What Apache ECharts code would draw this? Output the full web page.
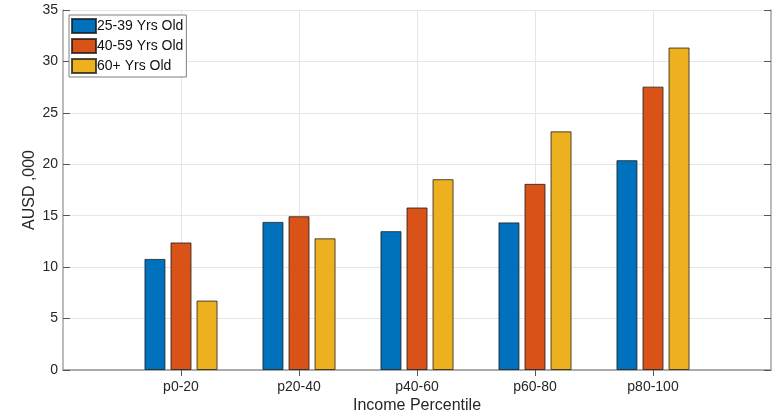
<!DOCTYPE html>
<html><head><meta charset="utf-8">
<script src="https://cdn.jsdelivr.net/npm/echarts@6/dist/echarts.min.js"></script>
<style>html,body{margin:0;padding:0;background:#fff}#c{width:783px;height:417px}</style>
</head><body><div id="c"></div>
<script>
const categories = ['p0-20', 'p20-40', 'p40-60', 'p60-80', 'p80-100'];
const seriesNames = ['25-39 Yrs Old', '40-59 Yrs Old', '60+ Yrs Old'];
const age25_39 = [10.8, 14.4, 13.5, 14.35, 20.4];
const age40_59 = [12.4, 14.95, 15.8, 18.1, 27.55];
const age60plus = [6.75, 12.8, 18.55, 23.2, 31.35];
const yTicks = [0, 5, 10, 15, 20, 25, 30, 35];
const colors = ['#0072BD', '#D95319', '#EDB120'];

const axisCats = [''].concat(categories, ['']);
const pad = a => [null].concat(a, [null]);
const font = 'Liberation Sans, Arial, Helvetica, sans-serif';
const axisGray = '#a6a6a6';
const inner = i => i > 0 && i < axisCats.length - 1;

const chart = echarts.init(document.getElementById('c'), null, {renderer: 'canvas'});
const mk = (name, data, i) => ({
  name: name, type: 'bar', data: pad(data), xAxisIndex: 0, yAxisIndex: 0,
  barWidth: 21, barGap: '24%',
  itemStyle: {color: colors[i], borderColor: 'rgba(20,20,20,0.75)', borderWidth: 1},
  emphasis: {disabled: true}, animation: false
});
chart.setOption({
  animation: false,
  textStyle: {fontFamily: font},
  grid: {left: 63, right: 12, top: 10, bottom: 47, containLabel: false, outerBoundsMode: 'none'},
  legend: {
    orient: 'vertical', left: 69, top: 15, icon: 'rect',
    itemWidth: 24, itemHeight: 14, itemGap: 4,
    padding: [3, 3, 3, 2],
    borderColor: '#7f7f7f', borderWidth: 1, backgroundColor: '#fff',
    textStyle: {fontSize: 14, lineHeight: 14, color: '#111', fontFamily: font, padding: [0, 0, 0, -4]},
    data: seriesNames
  },
  xAxis: [{
    type: 'category', data: axisCats, boundaryGap: false,
    name: 'Income Percentile', nameLocation: 'middle', nameGap: 28, nameMoveOverlap: false,
    nameTextStyle: {fontSize: 16, color: '#262626', fontFamily: font},
    axisLine: {show: true, lineStyle: {color: axisGray, width: 1.5}},
    axisTick: {show: true, inside: true, length: 6, interval: inner, lineStyle: {color: '#555'}},
    axisLabel: {fontSize: 14, color: '#262626', margin: 10, interval: 0},
    splitLine: {show: true, interval: inner, lineStyle: {color: '#e6e6e6'}}
  }, {
    type: 'category', data: axisCats, boundaryGap: false, position: 'top',
    axisLine: {show: true, lineStyle: {color: axisGray, width: 1.5}},
    axisTick: {show: true, inside: true, length: 6, interval: inner, lineStyle: {color: '#555'}},
    axisLabel: {show: false}, splitLine: {show: false}
  }],
  yAxis: [{
    type: 'value', min: 0, max: 35, interval: 5,
    name: 'AUSD ,000', nameLocation: 'middle', nameGap: 25, nameRotate: 90, nameMoveOverlap: false,
    nameTextStyle: {fontSize: 16, color: '#262626', fontFamily: font},
    axisLine: {show: true, lineStyle: {color: axisGray, width: 1.5}},
    axisTick: {show: true, inside: true, length: 7, lineStyle: {color: '#555'}},
    axisLabel: {fontSize: 14, color: '#262626', margin: 5,
      formatter: v => yTicks.indexOf(v) >= 0 ? String(v) : ''},
    splitLine: {show: true, lineStyle: {color: '#e6e6e6'}}
  }, {
    type: 'value', min: 0, max: 35, interval: 5, position: 'right',
    axisLine: {show: true, lineStyle: {color: axisGray, width: 1.5}},
    axisTick: {show: true, inside: true, length: 7, lineStyle: {color: '#555'}},
    axisLabel: {show: false}, splitLine: {show: false}
  }],
  series: [mk(seriesNames[0], age25_39, 0), mk(seriesNames[1], age40_59, 1), mk(seriesNames[2], age60plus, 2)]
});
</script></body></html>
